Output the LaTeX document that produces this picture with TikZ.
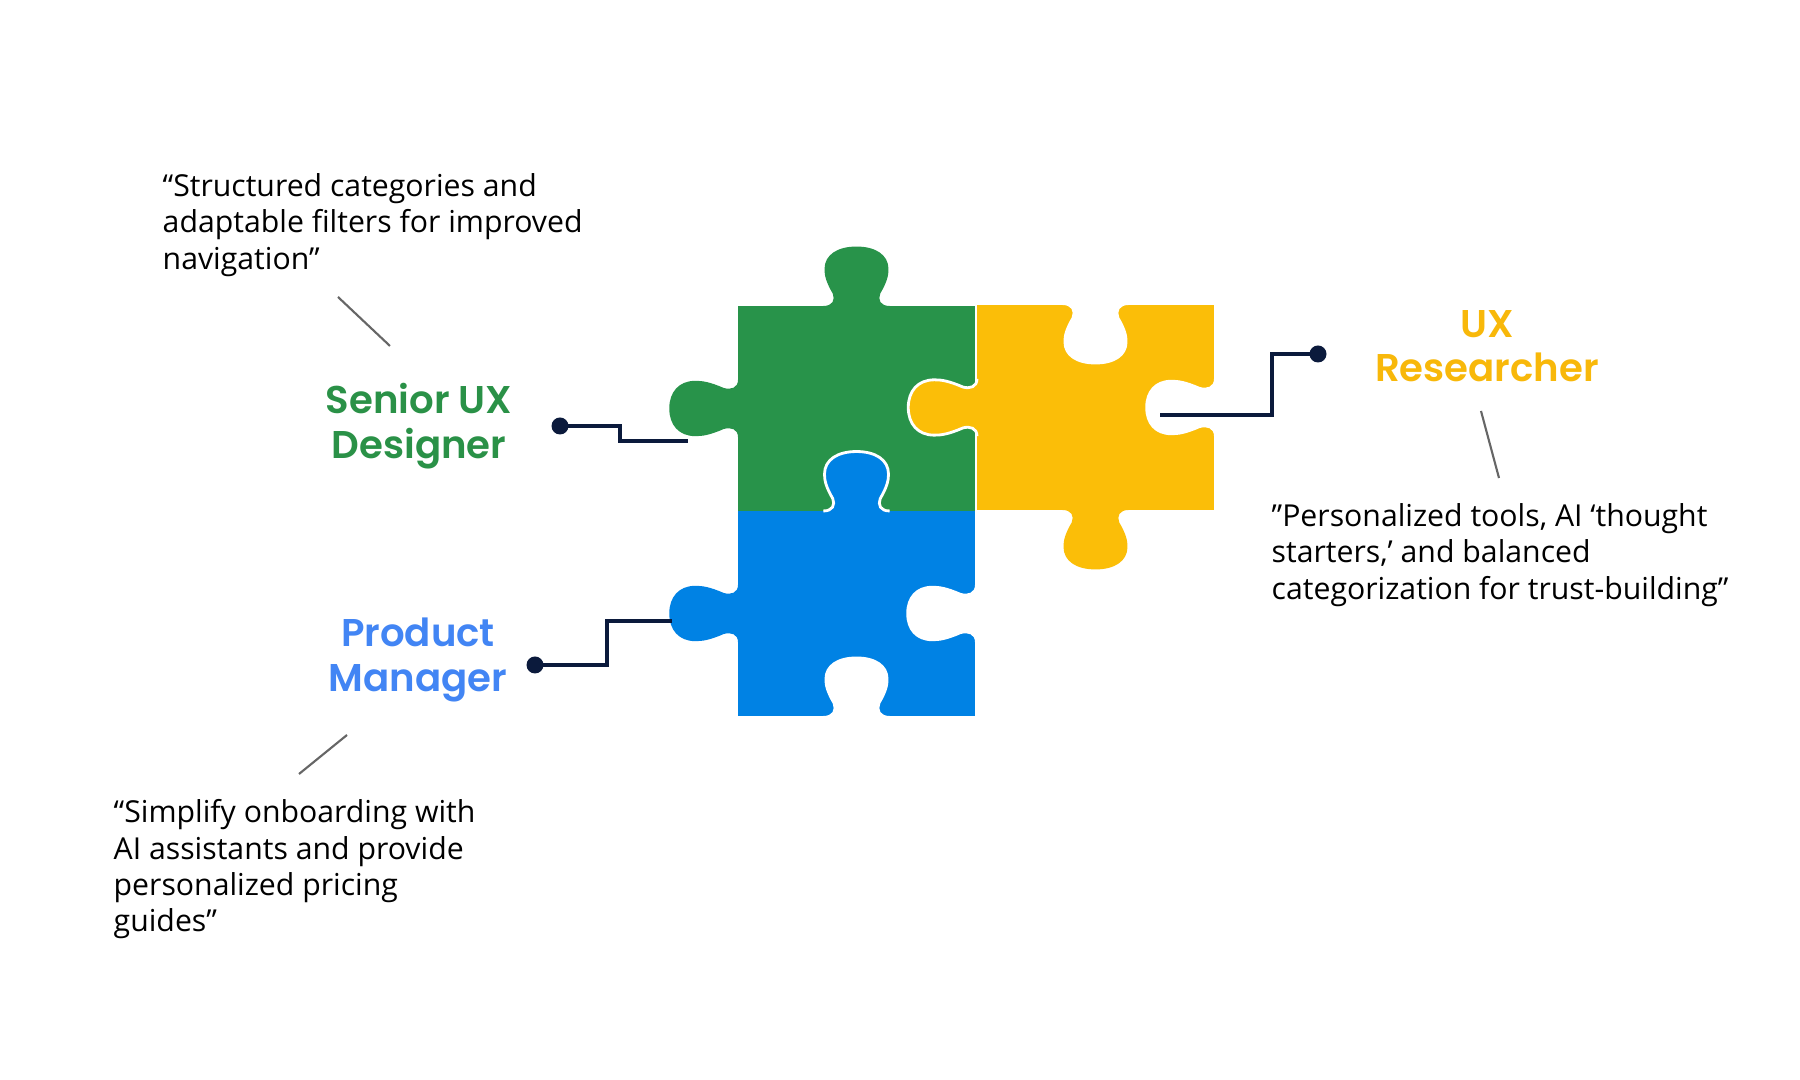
\documentclass[tikz,border=0pt]{standalone}
\usepackage{fontspec}
\setmainfont{Open Sans}
\newfontfamily\lblfont{Poppins}[UprightFont=* SemiBold,BoldFont=* Bold]
\definecolor{pgreen}{HTML}{28934A}
\definecolor{pyellow}{HTML}{FBBE08}
\definecolor{pblue}{HTML}{0082E4}
\definecolor{lgreen}{HTML}{2A9147}
\definecolor{lyellow}{HTML}{F8B80A}
\definecolor{lblue}{HTML}{4285F4}
\definecolor{navy}{HTML}{0B1A3C}
\tikzset{
  conn/.style={navy,line width=1.1pt},
  dotc/.style={circle,fill=navy,inner sep=0pt,minimum size=0.17cm},
  lead/.style={gray!80!black,line width=0.6pt},
  lbl/.style={font=\lblfont\fontsize{11}{12.6}\selectfont,align=center},
  quote/.style={font=\fontsize{8.6}{10.3}\selectfont,align=left,anchor=north west,inner sep=0pt}
}
\newcommand\profile{(0.36,0) .. controls (0.40,0) and (0.41,0.03) .. (0.40,0.06) .. controls (0.37,0.12) and (0.365,0.15) .. (0.365,0.18) .. controls (0.365,0.25) and (0.42,0.29) .. (0.5,0.29) .. controls (0.58,0.29) and (0.635,0.25) .. (0.635,0.18) .. controls (0.635,0.15) and (0.63,0.12) .. (0.60,0.06) .. controls (0.59,0.03) and (0.60,0) .. (0.64,0)}
% #1 x, #2 y, #3 rotation, #4 sign, #5 style
\newcommand\bump[5]{\begin{scope}[shift={(#1,#2)},xscale=2.37,yscale=2.05,rotate=#3,yscale=#4]\path[#5] \profile;\end{scope}}
\begin{document}
\begin{tikzpicture}
\useasboundingbox[fill=white] (0,0) rectangle (18,10.8);
% green
\fill[pgreen] (7.38,5.69) rectangle (9.75,7.74);
\bump{7.38}{7.74}{0}{1}{fill=pgreen}
\bump{7.38}{5.69}{90}{1}{fill=pgreen}
% yellow
\fill[pyellow] (9.77,5.70) rectangle (12.14,7.75);
\bump{9.77}{7.75}{0}{-1}{fill=white}
\bump{12.14}{7.75}{-90}{-1}{fill=white}
\bump{9.77}{5.70}{90}{1}{fill=pyellow,draw=white,line width=0.8pt}
\bump{12.14}{5.70}{180}{1}{fill=pyellow}
% blue
\fill[pblue] (7.38,3.64) rectangle (9.75,5.69);
\bump{7.38}{5.69}{0}{1}{fill=pblue,draw=white,line width=0.8pt}
\bump{7.38}{3.64}{90}{1}{fill=pblue}
\bump{9.75}{5.69}{-90}{-1}{fill=white}
\bump{9.75}{3.64}{180}{-1}{fill=white}
% labels
\node[lbl,text=lgreen] (sux) at (4.19,6.54) {Senior UX\\Designer};
\node[lbl,text=lyellow] (uxr) at (14.87,7.34) {UX\\Researcher};
\node[lbl,text=lblue] (pm) at (4.18,4.20) {Product\\Manager};
% dots and connector ends
\node[dotc] (d1) at (5.60,6.54) {};
\coordinate (e1) at (6.88,6.39);
\node[dotc] (d2) at (5.35,4.15) {};
\coordinate (e2) at (6.72,4.59);
\node[dotc] (d3) at (13.18,7.26) {};
\coordinate (e3) at (11.60,6.65);
\draw[conn] (d1.center) -- (6.20,6.54) |- (e1);
\draw[conn] (d2.center) -- (6.07,4.15) |- (e2);
\draw[conn] (e3) -- (12.72,6.65) |- (d3.center);
% quotes
\node[quote] (q1) at (1.62,9.07) {“Structured categories and\\adaptable filters for improved\\navigation”};
\node[quote] (q2) at (12.71,5.77) {”Personalized tools, AI ‘thought\\starters,’ and balanced\\categorization for trust-building”};
\node[quote] (q3) at (1.13,2.81) {“Simplify onboarding with\\AI assistants and provide\\personalized pricing\\guides”};
\coordinate (g1a) at (3.38,7.83); \coordinate (g1b) at (3.90,7.34);
\coordinate (g2a) at (14.81,6.69); \coordinate (g2b) at (14.99,6.02);
\coordinate (g3a) at (3.47,3.45); \coordinate (g3b) at (2.99,3.06);
\draw[lead] (g1a) -- (g1b);
\draw[lead] (g2a) -- (g2b);
\draw[lead] (g3a) -- (g3b);
\end{tikzpicture}
\end{document}
